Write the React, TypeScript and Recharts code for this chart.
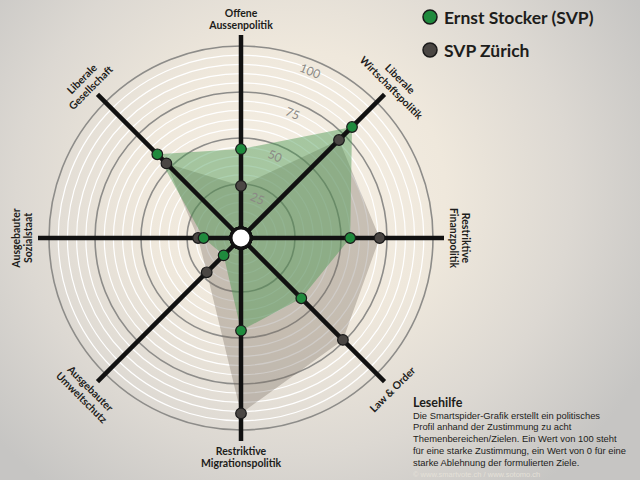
import React from 'react';
import { RadarChart, Radar, PolarGrid, PolarAngleAxis, PolarRadiusAxis } from 'recharts';

// Themen im Uhrzeigersinn ab 12 Uhr ("\n" = Zeilenumbruch im Label)
const categories = [
  'Offene\nAussenpolitik',
  'Liberale\nWirtschaftspolitik',
  'Restriktive\nFinanzpolitik',
  'Law & Order',
  'Restriktive\nMigrationspolitik',
  'Ausgebauter\nUmweltschutz',
  'Ausgebauter\nSozialstaat',
  'Liberale\nGesellschaft',
];
const stockerValues = [44, 81, 55, 42, 46, 9, 16, 60];
const svpValues = [24, 71, 71, 74, 91, 22, 19, 53];
const radiusTicks = [25, 50, 75, 100];
const seriesNames = ['Ernst Stocker (SVP)', 'SVP Zürich'];
const seriesColors = ['#1f8a3d', '#4a4643'];

const lesehilfe = [
  'Die Smartspider-Grafik erstellt ein politisches',
  'Profil anhand der Zustimmung zu acht',
  'Themenbereichen/Zielen. Ein Wert von 100 steht',
  'für eine starke Zustimmung, ein Wert von 0 für eine',
  'starke Ablehnung der formulierten Ziele.',
];

const WIDTH = 640;
const HEIGHT = 480;
const CX = 241;
const CY = 238;
const OUTER = 203;
// 0 sits a little off the centre (under the white hub), 100 sits inside the spoke ends
const R_MIN = -4.35;
const R_MAX = 105.98;

const rad = (v: number) => (OUTER * (v - R_MIN)) / (R_MAX - R_MIN);

const minorRadii: number[] = [];
const majorRadii: number[] = [];
for (let v = 5; v <= 100; v += 5) {
  if (v % 25 === 0) majorRadii.push(rad(v));
  else minorRadii.push(rad(v));
}

const data = categories.map((axis, i) => ({
  axis,
  stocker: stockerValues[i],
  svp: svpValues[i],
  hub: R_MIN,
}));

const AngleTick = (props: any) => {
  const { payload } = props;
  const lines: string[] = String(payload.value).split('\n');
  // recharts angle: 90 = top, decreasing clockwise
  const clock = (((90 - payload.coordinate) % 360) + 360) % 360;
  const rot = clock > 90 && clock < 270 ? clock - 180 : clock > 180 ? clock - 360 : clock;
  const r = lines.length > 1 ? 219 : 214;
  const x = CX + r * Math.sin((clock * Math.PI) / 180);
  const y = CY - r * Math.cos((clock * Math.PI) / 180);
  const lh = 12.5;
  return (
    <g transform={`translate(${x},${y}) rotate(${rot})`}>
      {lines.map((line, i) => (
        <text
          key={i}
          x={0}
          y={(i - (lines.length - 1) / 2) * lh}
          textAnchor="middle"
          dominantBaseline="central"
          fontFamily="Lato, 'Open Sans', sans-serif"
          fontWeight={700}
          fontSize={10.5}
          fill="#1d1d1b"
        >
          {line}
        </text>
      ))}
    </g>
  );
};

const RADIUS_ANGLE = 67.5;
const RadiusTick = (props: any) => {
  const { x, y, payload } = props;
  const a = (RADIUS_ANGLE * Math.PI) / 180;
  const tx = x - 11 * Math.cos(a);
  const ty = y + 11 * Math.sin(a);
  return (
    <text
      x={tx}
      y={ty}
      transform={`rotate(${90 - RADIUS_ANGLE},${tx},${ty})`}
      textAnchor="middle"
      dominantBaseline="central"
      fontFamily="Lato, 'Open Sans', sans-serif"
      fontSize={12}
      fill="#8b8985"
    >
      {payload.value}
    </text>
  );
};

const HubDot = (props: any) => (
  <circle cx={props.cx} cy={props.cy} r={10} fill="#ffffff" stroke="#111111" strokeWidth={3} />
);

export default function App() {
  return (
    <div
      style={{
        position: 'absolute',
        left: 0,
        top: 0,
        width: WIDTH,
        height: HEIGHT,
        overflow: 'hidden',
        background:
          'radial-gradient(ellipse 62% 78% at 46% 40%, #f6f0e5 0%, #efe8dc 38%, #dcd8d2 70%, #c6c5c3 100%)',
      }}
    >
      <RadarChart
        width={WIDTH}
        height={HEIGHT}
        data={data}
        cx={CX}
        cy={CY}
        outerRadius={OUTER}
        margin={{ top: 0, right: 0, bottom: 0, left: 0 }}
      >
        <PolarGrid gridType="circle" polarRadius={minorRadii} radialLines={false} stroke="#ffffff" strokeOpacity={1} strokeWidth={1.2} />
        <PolarGrid gridType="circle" polarRadius={majorRadii} radialLines={false} stroke="#8d8c89" strokeWidth={1.6} />
        <PolarAngleAxis dataKey="axis" tick={<AngleTick />} axisLine={false} tickLine={false} />
        <PolarRadiusAxis
          angle={RADIUS_ANGLE}
          domain={[R_MIN, R_MAX]}
          allowDataOverflow
          ticks={radiusTicks}
          axisLine={false}
          tick={<RadiusTick />}
        />
        <Radar dataKey="svp" name={seriesNames[1]} stroke="none" fill="#7a7065" fillOpacity={0.36} dot={false} isAnimationActive={false} />
        <Radar dataKey="stocker" name={seriesNames[0]} stroke="none" fill="#46964f" fillOpacity={0.45} dot={false} isAnimationActive={false} />
        <PolarGrid gridType="circle" polarRadius={[0.01]} radialLines stroke="#111111" strokeWidth={4.5} zIndex={150} />
        <Radar
          dataKey="svp"
          stroke="none"
          fill="none"
          dot={{ r: 5.3, fill: seriesColors[1], stroke: '#1a1a1a', strokeWidth: 1.2 }}
          isAnimationActive={false}
          zIndex={200}
        />
        <Radar
          dataKey="stocker"
          stroke="none"
          fill="none"
          dot={{ r: 5.3, fill: seriesColors[0], stroke: '#1a1a1a', strokeWidth: 1.2 }}
          isAnimationActive={false}
          zIndex={200}
        />
        <Radar dataKey="hub" stroke="none" fill="none" dot={<HubDot />} isAnimationActive={false} zIndex={250} />
      </RadarChart>

      {/* Legende */}
      <div style={{ position: 'absolute', left: 421, top: 5, fontFamily: "Lato, 'Open Sans', sans-serif", fontWeight: 700, fontSize: 17.5, color: '#1d1d1b' }}>
        {seriesNames.map((name, i) => (
          <div key={name} style={{ display: 'flex', alignItems: 'center', height: 24, marginBottom: i === 0 ? 9 : 0 }}>
            <svg width={18} height={18} style={{ marginRight: 5 }}>
              <circle cx={9} cy={9} r={7} fill={seriesColors[i]} stroke="#1a1a1a" strokeWidth={1.5} />
            </svg>
            <span>{name}</span>
          </div>
        ))}
      </div>

      {/* Lesehilfe */}
      <div style={{ position: 'absolute', left: 413, top: 395.5, width: 225, fontFamily: "'Liberation Sans', Arial, sans-serif", color: '#1d1d1b' }}>
        <div style={{ fontFamily: "Lato, 'Open Sans', sans-serif", fontWeight: 700, fontSize: 12.5, lineHeight: '14px' }}>Lesehilfe</div>
        {lesehilfe.map((line) => (
          <div key={line} style={{ fontSize: 9.4, lineHeight: '11.8px', whiteSpace: 'nowrap' }}>
            {line}
          </div>
        ))}
        <div style={{ fontSize: 7.5, lineHeight: '11px', color: '#e4e0d8', marginTop: 1 }}>© www.smartvote.ch / www.sotomo.ch</div>
      </div>
    </div>
  );
}
